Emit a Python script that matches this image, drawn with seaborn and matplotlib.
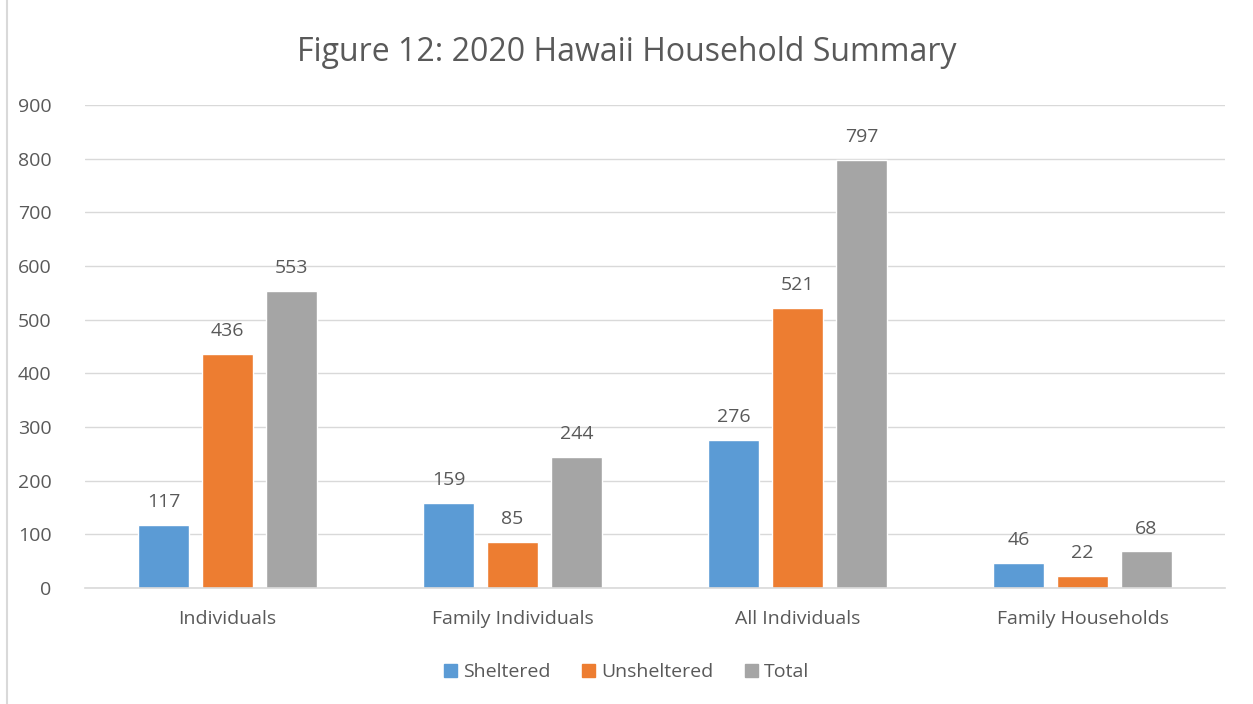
import numpy as np
import pandas as pd
import matplotlib
matplotlib.use("Agg")
import matplotlib.pyplot as plt
import seaborn as sns
from matplotlib.patches import Rectangle

sns.set_theme(style="white")
plt.rcParams['font.family'] = ['Open Sans', 'DejaVu Sans']

categories = ["Individuals", "Family Individuals", "All Individuals", "Family Households"]
sheltered = [117, 159, 276, 46]
unsheltered = [436, 85, 521, 22]
total = [553, 244, 797, 68]
series = ["Sheltered", "Unsheltered", "Total"]
colors = ["#5B9BD5", "#ED7D31", "#A5A5A5"]
yticks = [0, 100, 200, 300, 400, 500, 600, 700, 800, 900]

df = pd.DataFrame({
    "category": categories * 3,
    "series": [s for s in series for _ in categories],
    "value": sheltered + unsheltered + total,
})

TXT = "#595959"

fig = plt.figure(figsize=(12.53, 7.04), dpi=100)
ax = fig.add_axes([0.0678, 0.1648, 0.9099, 0.6861])

sns.barplot(data=df, x="category", y="value", hue="series", order=categories,
            hue_order=series, palette=colors, width=0.672, gap=0.21,
            saturation=1, ax=ax, legend=False)

for cont in ax.containers:
    ax.bar_label(cont, fmt="%d", padding=10, fontsize=14, color=TXT)

ax.set_ylim(0, 900)
ax.set_xlim(-0.5, 3.5)
ax.set_yticks(yticks)
ax.yaxis.grid(True, color="#D9D9D9", linewidth=1)
ax.set_axisbelow(True)
for s in ["top", "right", "left"]:
    ax.spines[s].set_visible(False)
ax.spines["bottom"].set_color("#D9D9D9")
ax.spines["bottom"].set_linewidth(1.2)
ax.tick_params(axis="both", length=0, labelsize=14, labelcolor=TXT)
ax.tick_params(axis="y", pad=24)
ax.tick_params(axis="x", pad=16)
ax.set_xlabel("")
ax.set_ylabel("")

fig.text(0.5, 0.926, "Figure 12: 2020 Hawaii Household Summary", ha="center",
         va="center", fontsize=23, color=TXT)

handles = [Rectangle((0, 0), 1, 1, color=c) for c in colors]
fig.legend(handles, series, loc="center", bbox_to_anchor=(0.5, 0.045), ncol=3,
           frameon=False, fontsize=14, labelcolor=TXT, handlelength=0.7,
           handleheight=0.7, handletextpad=0.3, columnspacing=1.6)

fig.patches.append(Rectangle((7 / 1253, -0.1), 1.2, 1.2, transform=fig.transFigure,
                             fill=False, edgecolor="#D9D9D9", linewidth=1.5))

fig.savefig("out.png", dpi=100)
